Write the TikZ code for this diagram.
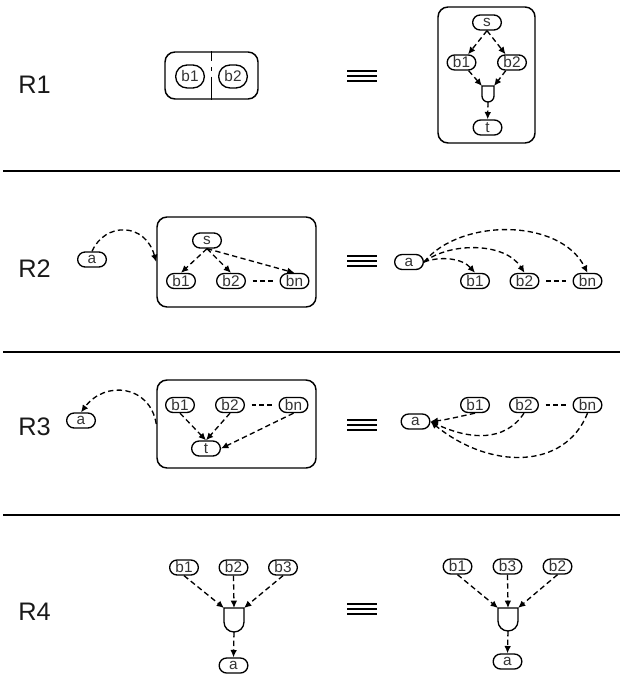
\documentclass[tikz,border=0pt]{standalone}
\usepackage{fontspec}
\setmainfont{Liberation Sans}
\usetikzlibrary{arrows.meta, positioning, calc}

\begin{document}
\begin{tikzpicture}[
    x=0.75pt, y=-0.75pt,
    blk/.style = {rectangle, draw=black, line width=1pt, rounded corners=5.6pt, minimum width=21.5pt, minimum height=11.25pt, inner sep=0pt, text=black!80, font=\fontsize{11.5}{11.5}\selectfont},
    bigblk/.style = {blk, minimum height=17.25pt, rounded corners=8.6pt},
    frame/.style = {rectangle, draw=black, line width=1.1pt, rounded corners=7.5pt, inner sep=0pt},
    gatebox/.style = {rectangle, inner sep=0pt, outer sep=0pt},
    gateline/.style = {draw=black, line width=1pt},
    dep/.style = {draw=black, line width=1pt, dash pattern=on 4pt off 2.5pt, -{Latex[length=5.5pt,width=5pt]}},
    dots/.style = {draw=black, line width=2.2pt, dash pattern=on 3.5pt off 2.3pt},
    divider/.style = {draw=black, line width=1pt, dash pattern=on 7.5pt off 4.5pt on 3pt off 4pt on 20pt},
    rlabel/.style = {font=\fontsize{19}{19}\selectfont, text=black!90, anchor=west, inner sep=0pt},
    sepline/.style = {draw=black, line width=1.5pt},
    eqline/.style = {draw=black, line width=2.2pt}
]
\useasboundingbox (0,0) rectangle (621,677);

% row labels and separators
\node (lr1) [rlabel] at (18,85) {R1};
\node (lr2) [rlabel] at (18,269) {R2};
\node (lr3) [rlabel] at (18,427) {R3};
\node (lr4) [rlabel] at (18,612) {R4};
\foreach \y in {171,352,515}
    \draw [sepline] (3,\y) -- (620,\y);
\foreach \y in {76,261,425,609} {
    \draw [eqline] (347,\y-5) -- (377,\y-5);
    \draw [eqline] (347,\y) -- (377,\y);
    \draw [eqline] (347,\y+5) -- (377,\y+5);
}

% R1
\node (pc1) [frame, minimum width=69.75pt, minimum height=35.25pt] at (211.5,75.5) {};
\node (pb1) [bigblk] at (190,76.5) {b1};
\node (pb2) [bigblk] at (233,76.5) {b2};
\draw [divider] (pc1.north) -- (pc1.south);

\node (sc1) [frame, minimum width=72.75pt, minimum height=102pt] at (486.5,75) {};
\node (s1) [blk] at (487,22.5) {s};
\node (b11) [blk] at (461.5,62.5) {b1};
\node (b12) [blk] at (512,62.5) {b2};
\node (g1) [gatebox, minimum width=9pt, minimum height=12pt] at (488,94) {};
\draw [gateline] (g1.north west) -- (g1.north east) -- ($(g1.south east)+(0,-6)$) arc[start angle=0, end angle=180, radius=6] -- cycle;
\node (t1) [blk] at (487.5,127.5) {t};
\draw [dep] (s1.south) -- (b11);
\draw [dep] (s1.south) -- (b12);
\draw [dep] (b11) -- (g1.north west);
\draw [dep] (b12) -- (g1.north east);
\draw [dep] (g1.south) -- (t1);

% R2
\node (a2) [blk] at (92,259.5) {a};
\node (sc2) [frame, minimum width=119.25pt, minimum height=67.5pt] at (236.5,262) {};
\node (s2) [blk] at (207,240.5) {s};
\node (b21) [blk] at (181,281) {b1};
\node (b22) [blk] at (231,281) {b2};
\node (b2n) [blk] at (294.5,281) {bn};
\draw [dots] ($(b22.east)!0.2!(b2n.west)$) -- ($(b22.east)!0.8!(b2n.west)$);
\draw [dep] (s2.south) -- (b21.north);
\draw [dep] (s2.south) -- (b22.north);
\draw [dep] (s2.south) -- (b2n.north);
\draw [dep] (a2.north) .. controls (105,222) and (145,222) .. (sc2.west);

\node (a2r) [blk] at (409,262) {a};
\node (b21r) [blk] at (475,281) {b1};
\node (b22r) [blk] at (524.5,281) {b2};
\node (b2nr) [blk] at (587.5,281) {bn};
\draw [dots] ($(b22r.east)!0.2!(b2nr.west)$) -- ($(b22r.east)!0.8!(b2nr.west)$);
\draw [dep] (a2r.east) .. controls (440,256) and (462,258) .. (b21r.north);
\draw [dep] (a2r.east) .. controls (450,242) and (505,242) .. (b22r.north);
\draw [dep] (a2r.east) .. controls (460,218) and (560,218) .. (b2nr.north);

% R3
\node (a3) [blk] at (81,420.5) {a};
\node (sc3) [frame, minimum width=119.25pt, minimum height=66pt] at (236.5,424) {};
\node (b31) [blk] at (180,405) {b1};
\node (b32) [blk] at (230,405) {b2};
\node (b3n) [blk] at (293.5,405) {bn};
\node (t3) [blk] at (206,448.5) {t};
\draw [dots] ($(b32.east)!0.2!(b3n.west)$) -- ($(b32.east)!0.8!(b3n.west)$);
\draw [dep] (b31.south) -- (t3.north);
\draw [dep] (b32.south) -- (t3.north);
\draw [dep] (b3n.south) -- (t3.east);
\draw [dep] (sc3.west) .. controls (150,385) and (105,380) .. (a3.north);

\node (a3r) [blk] at (415.5,421.5) {a};
\node (b31r) [blk] at (475,405) {b1};
\node (b32r) [blk] at (524,405) {b2};
\node (b3nr) [blk] at (587.5,405) {bn};
\draw [dots] ($(b32r.east)!0.2!(b3nr.west)$) -- ($(b32r.east)!0.8!(b3nr.west)$);
\draw [dep] (b31r.south) .. controls (462,416) and (445,420) .. (a3r.east);
\draw [dep] (b32r.south) .. controls (505,442) and (470,440) .. (a3r.east);
\draw [dep] (b3nr.south) .. controls (565,470) and (490,470) .. (a3r.east);

% R4
\node (b41) [blk] at (184,567.5) {b1};
\node (b42) [blk] at (233.5,567.5) {b2};
\node (b43) [blk] at (283,567.5) {b3};
\node (g4) [gatebox, minimum width=15pt, minimum height=18pt] at (234,620) {};
\draw [gateline] (g4.north west) -- (g4.north east) -- ($(g4.south east)+(0,-10)$) arc[start angle=0, end angle=180, radius=10] -- cycle;
\node (a4) [blk] at (233.5,665.5) {a};
\draw [dep] (b41.south) -- (g4.north west);
\draw [dep] (b42.south) -- (g4.north);
\draw [dep] (b43.south) -- (g4.north east);
\draw [dep] (g4.south) -- (a4.north);

\node (b41r) [blk] at (457.5,566.5) {b1};
\node (b43r) [blk] at (507.5,566.5) {b3};
\node (b42r) [blk] at (557.5,566.5) {b2};
\node (g4r) [gatebox, minimum width=15pt, minimum height=17.25pt] at (508,619.5) {};
\draw [gateline] (g4r.north west) -- (g4r.north east) -- ($(g4r.south east)+(0,-10)$) arc[start angle=0, end angle=180, radius=10] -- cycle;
\node (a4r) [blk] at (507.5,661.5) {a};
\draw [dep] (b41r.south) -- (g4r.north west);
\draw [dep] (b43r.south) -- (g4r.north);
\draw [dep] (b42r.south) -- (g4r.north east);
\draw [dep] (g4r.south) -- (a4r.north);

\end{tikzpicture}
\end{document}
